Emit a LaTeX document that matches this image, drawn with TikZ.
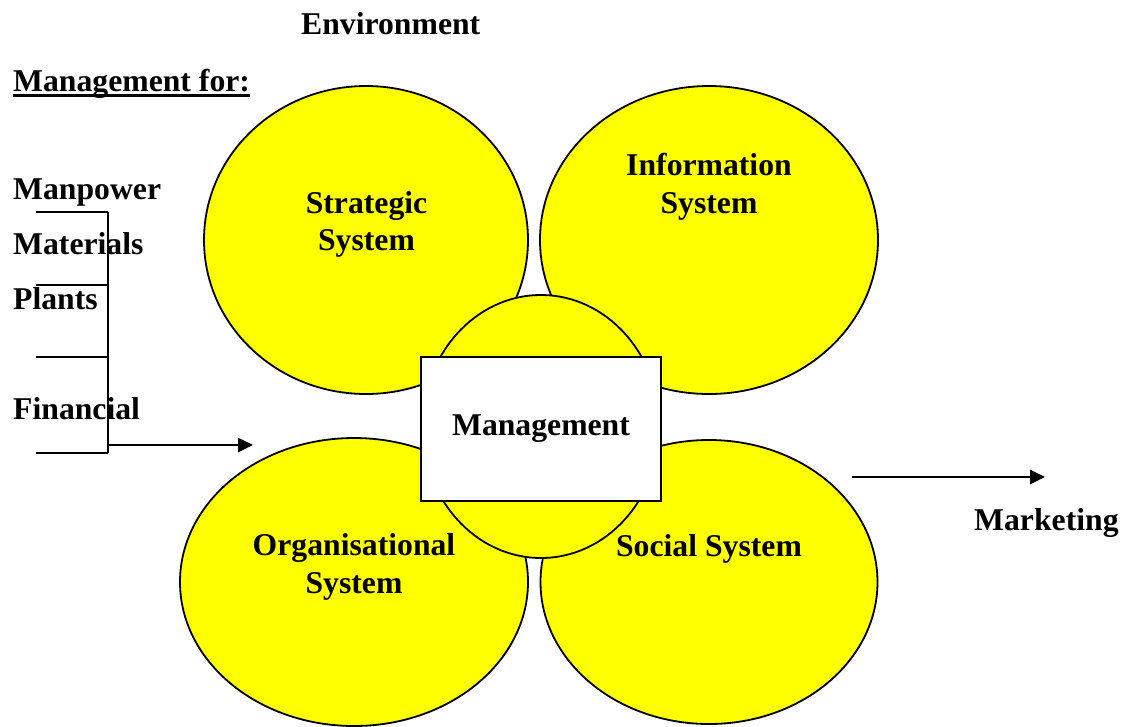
\documentclass[tikz,border=0pt]{standalone}
\usepackage{fontspec}
\setmainfont{Liberation Serif}
\usetikzlibrary{shapes.geometric,arrows.meta}
\definecolor{sysyellow}{HTML}{FFFF00}
\tikzset{
  sys/.style={ellipse, draw=black, fill=sysyellow, line width=1.8pt, inner sep=0pt},
  txt/.style={inner sep=0pt, font=\fontsize{31.7}{38}\selectfont\bfseries},
  brk/.style={line width=2.2pt},
  arr/.style={line width=2.6pt, -{Triangle[length=15pt,width=14pt]}}
}
\begin{document}
\begin{tikzpicture}[x=1pt,y=-1pt]
\useasboundingbox (0,0) rectangle (1123,726);
% systems
\node[sys, minimum width=324pt, minimum height=308pt] (strat) at (366,240) {};
\node[sys, minimum width=338pt, minimum height=308pt] (info) at (709,240) {};
\node[sys, minimum width=348pt, minimum height=288pt] (org) at (354,582) {};
\node[sys, minimum width=337pt, minimum height=284pt] (soc) at (709,582) {};
\node[sys, minimum width=237pt, minimum height=263pt] (mid) at (541,426.5) {};
\node[draw=black, fill=white, line width=1.8pt, minimum width=240pt, minimum height=144pt, inner sep=0pt] (mgmtbox) at (541,429) {};
% texts
\node[txt, anchor=base west] (env) at (301,34) {Environment};
\node[txt, anchor=base west] (mf) at (13,91) {Management for:};
\draw[line width=2.6pt] ([yshift=-4.5pt]mf.base west) -- ([yshift=-4.5pt]mf.base east);
\node[txt, anchor=base west] (manp) at (13,199) {Manpower};
\node[txt, anchor=base west] (mat) at (13,254) {Materials};
\node[txt, anchor=base west] (pla) at (13,309) {Plants};
\node[txt, anchor=base west] (fin) at (13,419) {Financial};
\node[txt, anchor=base] (s1) at (366.5,213) {Strategic};
\node[txt, anchor=base] (s2) at (366.5,250) {System};
\node[txt, anchor=base] (i1) at (709,175) {Information};
\node[txt, anchor=base] (i2) at (709,213) {System};
\node[txt, anchor=base] (mg) at (541,435) {Management};
\node[txt, anchor=base] (o1) at (354,555) {Organisational};
\node[txt, anchor=base] (o2) at (354,593) {System};
\node[txt, anchor=base] (so) at (709,556) {Social System};
\node[txt, anchor=base west] (mkt) at (974,530) {Marketing};
% bracket
\coordinate (l1) at (36,212);  \coordinate (r1) at (108,212);
\coordinate (l2) at (36,285);  \coordinate (r2) at (108,285);
\coordinate (l3) at (36,357);  \coordinate (r3) at (108,357);
\coordinate (l4) at (36,453);  \coordinate (r4) at (108,453);
\draw[brk] (l1) -- (r1);
\draw[brk] (l2) -- (r2);
\draw[brk] (l3) -- (r3);
\draw[brk] (l4) -- (r4);
\draw[brk] (r1) -- (r4);
\coordinate (a1s) at (108,445); \coordinate (a1e) at (253,445);
\draw[arr] (a1s) -- (a1e);
\coordinate (a2s) at (852,477); \coordinate (a2e) at (1045,477);
\draw[arr] (a2s) -- (a2e);
\end{tikzpicture}
\end{document}
